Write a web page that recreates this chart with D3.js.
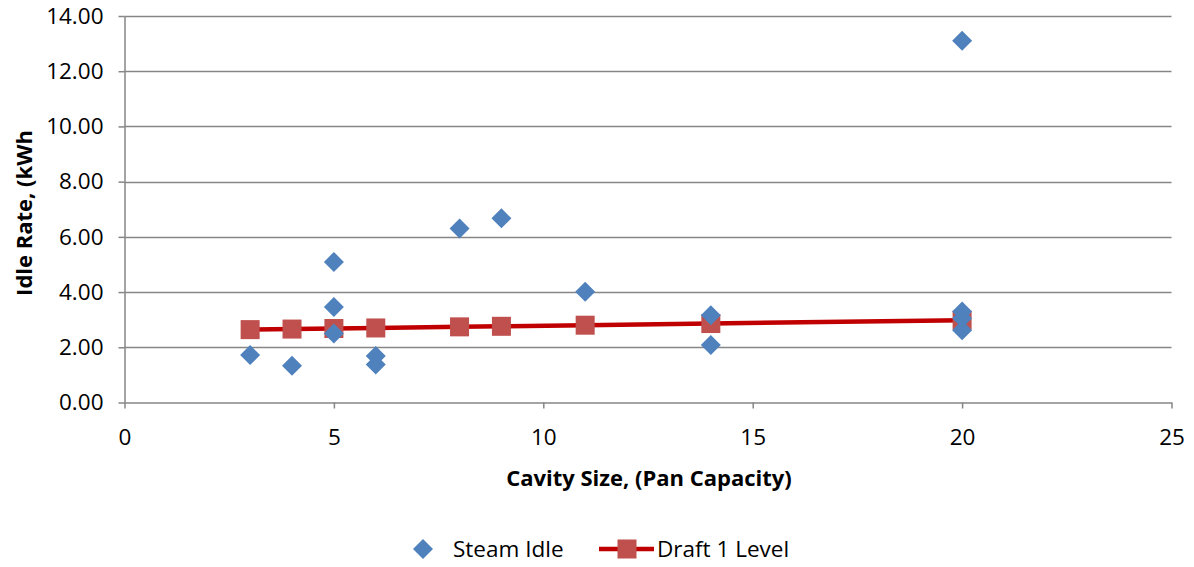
<!DOCTYPE html>
<html><head><meta charset="utf-8">
<script src="https://cdn.jsdelivr.net/npm/d3@7"></script>
<style>body{margin:0;background:#fff;} svg{display:block;font-family:"Open Sans",Calibri,sans-serif;}</style>
</head><body><svg id="c" width="1194" height="567"></svg>
<script>
const steamX = [3, 4, 5, 5, 5, 6, 6, 8, 9, 11, 14, 14, 20, 20, 20, 20];
const steamY = [1.72, 1.33, 5.09, 3.46, 2.50, 1.68, 1.38, 6.30, 6.67, 4.01, 3.16, 2.08, 13.10, 3.30, 3.05, 2.62];
const draftX = [3, 4, 5, 6, 8, 9, 11, 14, 20];
const draftY = [2.64, 2.66, 2.68, 2.70, 2.74, 2.76, 2.80, 2.86, 2.98];
const xTicks = [0, 5, 10, 15, 20, 25];
const yTicks = [0, 2, 4, 6, 8, 10, 12, 14];

const svg = d3.select("#c");
const x = d3.scaleLinear().domain([0, 25]).range([124.5, 1171.5]);
const y = d3.scaleLinear().domain([0, 14]).range([402.5, 16]);
const grey = "#868686";
const fs = 22.5;
const ts = 22;

// gridlines
svg.append("g").selectAll("line").data(yTicks.filter(d => d > 0)).join("line")
  .attr("x1", x(0)).attr("x2", x(25)).attr("y1", d => Math.round(y(d)) + 0.5).attr("y2", d => Math.round(y(d)) + 0.5)
  .attr("stroke", grey).attr("stroke-width", 1.5);

// y axis
const yAxis = svg.append("g").attr("transform", `translate(${x(0)},0)`)
  .call(d3.axisLeft(y).tickValues(yTicks).tickFormat(d3.format(".2f")).tickSize(6).tickSizeOuter(0));
yAxis.select(".domain").attr("stroke", grey).attr("stroke-width", 1.5);
yAxis.selectAll(".tick line").attr("stroke", grey).attr("stroke-width", 1.5);
yAxis.selectAll(".tick text").attr("font-size", fs).attr("fill", "#000").attr("x", -21).attr("font-family", "Open Sans");

// x axis
const xAxis = svg.append("g").attr("transform", `translate(0,${y(0)})`)
  .call(d3.axisBottom(x).tickValues(xTicks).tickFormat(d3.format("d")).tickSize(6).tickSizeOuter(0));
xAxis.select(".domain").attr("stroke", grey).attr("stroke-width", 1.5);
xAxis.selectAll(".tick line").attr("stroke", grey).attr("stroke-width", 1.5);
xAxis.selectAll(".tick text").attr("font-size", fs).attr("fill", "#000").attr("y", 27).attr("font-family", "Open Sans");

// axis titles
svg.append("text").attr("x", 649).attr("y", 486).attr("text-anchor", "middle")
  .attr("font-size", ts).attr("font-weight", "bold").text("Cavity Size, (Pan Capacity)");
svg.append("text").attr("transform", "translate(32,213) rotate(-90)").attr("text-anchor", "middle")
  .attr("font-size", ts).attr("font-weight", "bold").text("Idle Rate, (kWh");

// draft line
const draft = draftX.map((d, i) => [d, draftY[i]]);
svg.append("path").datum(draft).attr("fill", "none").attr("stroke", "#C00000").attr("stroke-width", 4.5)
  .attr("d", d3.line().x(d => x(d[0])).y(d => y(d[1])));
const sq = 19;
svg.append("g").selectAll("rect").data(draft).join("rect")
  .attr("x", d => x(d[0]) - sq / 2).attr("y", d => y(d[1]) - sq / 2).attr("width", sq).attr("height", sq)
  .attr("fill", "#C0504D");

// steam diamonds
const dia = 10;
const diamond = (cx, cy) => `M${cx},${cy - dia}L${cx + dia},${cy}L${cx},${cy + dia}L${cx - dia},${cy}Z`;
svg.append("g").selectAll("path").data(steamX.map((d, i) => [d, steamY[i]])).join("path")
  .attr("d", d => diamond(x(d[0]), y(d[1]))).attr("fill", "#4F81BD");

// legend
const ly = 549;
svg.append("path").attr("d", diamond(423, ly)).attr("fill", "#4F81BD");
svg.append("text").attr("x", 453).attr("y", ly + 8).attr("font-size", fs).text("Steam Idle");
svg.append("line").attr("x1", 599).attr("x2", 654).attr("y1", ly).attr("y2", ly).attr("stroke", "#C00000").attr("stroke-width", 4.5);
svg.append("rect").attr("x", 627 - sq / 2).attr("y", ly - sq / 2).attr("width", sq).attr("height", sq).attr("fill", "#C0504D");
svg.append("text").attr("x", 657).attr("y", ly + 8).attr("font-size", fs).text("Draft 1 Level");
</script></body></html>
